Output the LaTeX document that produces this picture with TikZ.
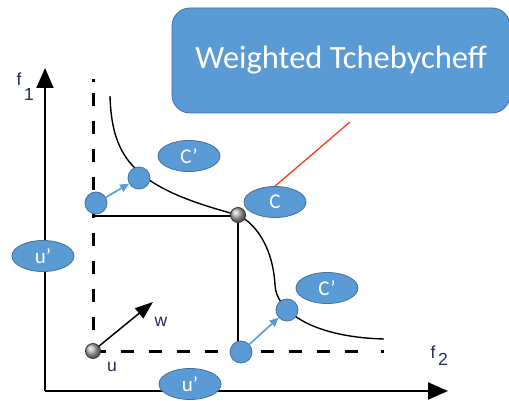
\documentclass[tikz,border=0pt]{standalone}
\usepackage{fontspec}
\setmainfont{Carlito}
\newfontfamily\axisfont{Liberation Sans}
\usetikzlibrary{arrows.meta,shapes.geometric}
\definecolor{blobfill}{HTML}{5B9BD5}
\definecolor{blobedge}{HTML}{41719C}
\definecolor{axislbl}{HTML}{1F2D50}
\definecolor{leader}{HTML}{FF3A1A}

\begin{document}
\begin{tikzpicture}[x=1pt,y=-1pt,
  blob/.style={ellipse,fill=blobfill,draw=blobedge,line width=0.8pt,
    minimum width=62pt,minimum height=31pt,inner sep=0pt,text=white,
    font=\fontsize{21}{24}\selectfont},
  dotpt/.style={circle,fill=blobfill,draw=blobedge,line width=0.8pt,
    minimum size=22pt,inner sep=0pt},
  graypt/.style={circle,shading=ball,ball color=gray!60,draw=black!80,
    line width=0.8pt,minimum size=15pt,inner sep=0pt},
  axisln/.style={line width=2pt,-{Triangle[length=20pt,width=17pt]}},
  solidln/.style={line width=2.5pt},
  dashln/.style={line width=3pt,dash pattern=on 13pt off 15pt},
  move/.style={draw=blobfill,line width=1.6pt,-{Triangle[length=9pt,width=8pt]}},
  lbl/.style={text=axislbl,font=\axisfont\fontsize{17.5}{20}\selectfont,inner sep=0pt},
  titlebox/.style={draw=blobedge,fill=blobfill,line width=0.8pt,rounded corners=18pt,
    minimum width=338pt,minimum height=105pt,text=white,
    font=\fontsize{32.5}{38}\selectfont}
]
\useasboundingbox (0,0) rectangle (509,401);
\clip (0,0) rectangle (509,401);
\fill[white] (0,0) rectangle (509,401);

% title box
\node[titlebox] (title) at (341,60.5) {Weighted Tchebycheff};

% axes
\coordinate (O) at (45,391);
\coordinate (f1tip) at (45,68);
\coordinate (f2tip) at (448,391);
\draw[axisln] (O) -- (f1tip);
\draw[axisln] (O) -- (f2tip);

% reference lines
\coordinate (u) at (93,351);
\coordinate (topdot) at (93,79.5);
\coordinate (dashtop) at (93,93);
\coordinate (dashend) at (368,351);
\coordinate (enddot) at (381,351);
\coordinate (Cpt) at (238,215);
\coordinate (kneeL) at (93,216);
\coordinate (kneeB) at (238,351);
\draw[dashln] (dashtop) -- (u);
\draw[line width=3pt] (topdot) -- ++(0,2.5);
\draw[dashln] (u) -- (dashend);
\draw[line width=3pt] (enddot) -- ++(2.5,0);
\draw[solidln] (kneeL) -- (238,216) -- (kneeB);

% front curve
\coordinate (curvetop) at (110,96);
\coordinate (curveend) at (384,339);
\draw[line width=1.4pt] (curvetop) .. controls (112,160) and (135,188) .. (Cpt)
  .. controls (258,225) and (273,250) .. (275,285)
  .. controls (276,310) and (310,337) .. (curveend);

% weight vector
\coordinate (wtip) at (153,302);
\draw[line width=1.5pt,-{Triangle[length=18pt,width=13pt]}] (u) -- (wtip);

% points
\node[graypt] (upt) at (u) {};
\node[graypt] (cpt) at (Cpt) {};
\node[dotpt] (a0) at (96,203) {};
\node[dotpt] (a1) at (139,178) {};
\node[dotpt] (b0) at (241,352) {};
\node[dotpt] (b1) at (287,310) {};
\draw[move] (a0) -- (a1);
\draw[move] (b0) -- (b1);

% labels
\coordinate (leaderend) at (350,122);
\node[blob] (cp1) at (189,156) {C’};
\node[blob] (c) at (275,202) {C};
\node[blob] (cp2) at (327,288) {C’};
\node[blob] (up1) at (43,256) {u’};
\node[blob] (up2) at (190,384) {u’};
\draw[leader,line width=1.3pt] (c.north) -- (leaderend);

\node[lbl] (f1f) at (19,79) {f};
\node[lbl] (f1s) at (29,94) {1};
\node[lbl] (f2f) at (433,352) {f};
\node[lbl] (f2s) at (443,359) {2};
\node[lbl] (ulbl) at (112,367) {u};
\node[lbl] (wlbl) at (161,322) {w};
\end{tikzpicture}
\end{document}
